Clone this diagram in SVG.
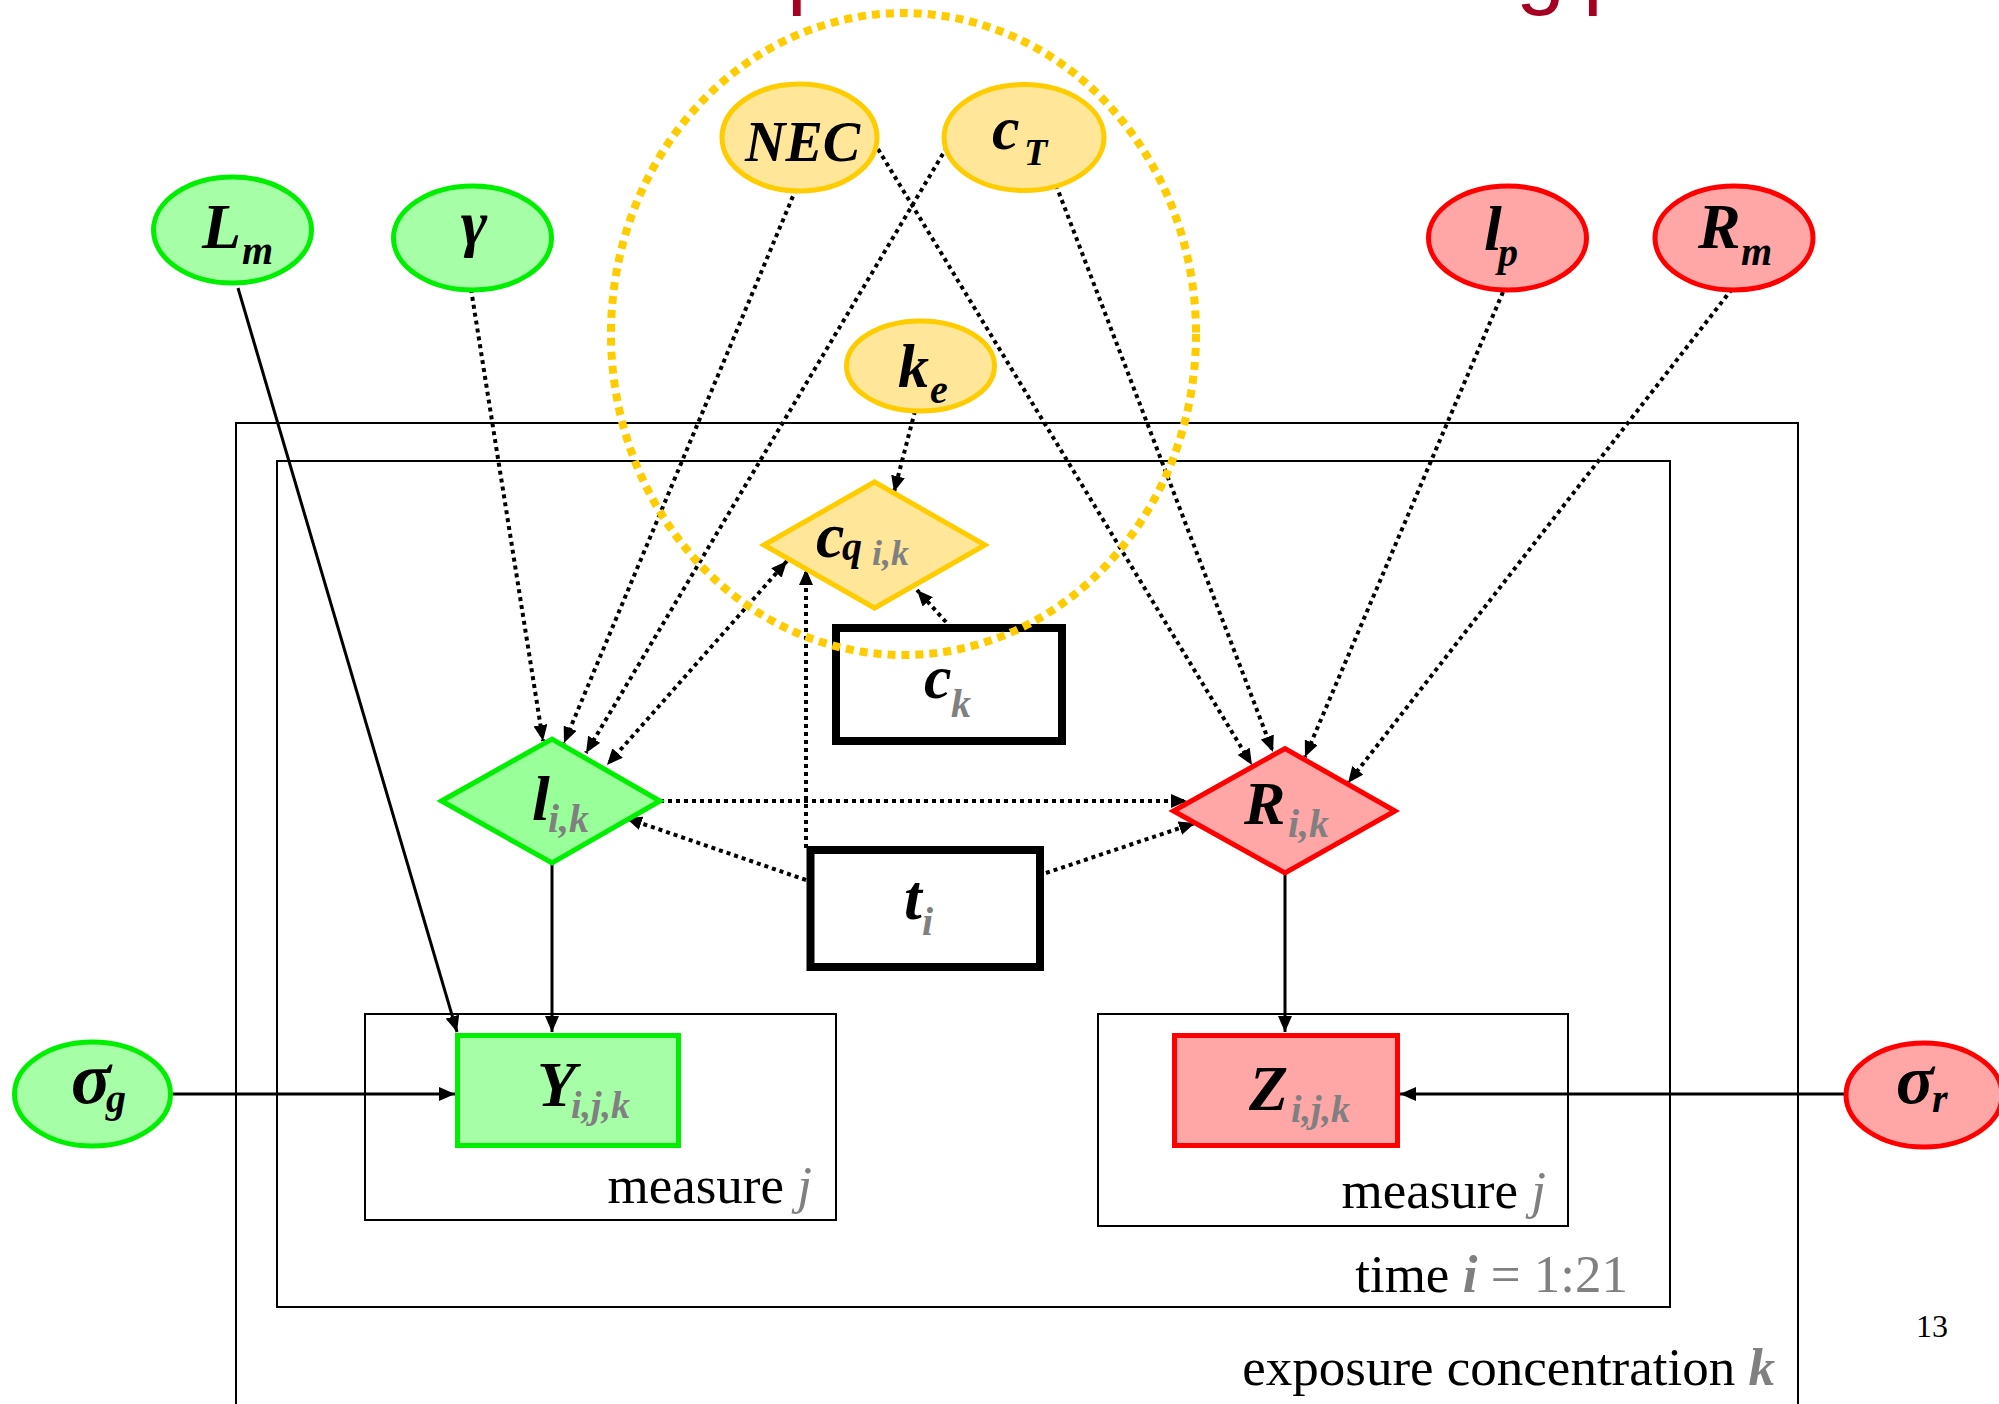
<svg xmlns="http://www.w3.org/2000/svg" width="1999" height="1404" viewBox="0 0 1999 1404">
<style>
.plate{fill:none;stroke:#000;stroke-width:2}
.lbl{font-family:"Liberation Serif","Times New Roman",serif;font-weight:bold;font-style:italic;fill:#000}
.sub{font-size:40px}
.grey{fill:#808080}
.ptxt{font-family:"Liberation Serif","Times New Roman",serif;font-size:53px;fill:#000}
.gE{fill:#A6FFA6;stroke:#00EE00;stroke-width:5}
.gD{fill:#99FF99;stroke:#00EE00;stroke-width:5}
.rE{fill:#FFA6A6;stroke:#FF0000;stroke-width:5}
.yE{fill:#FFE699;stroke:#FFCC00;stroke-width:5}
.box{fill:#fff;stroke:#000;stroke-width:8}
.solid{stroke:#000;stroke-width:3;fill:none;marker-end:url(#arr)}
.dot{stroke:#000;stroke-width:4;stroke-dasharray:4 4;fill:none;marker-end:url(#arr)}
.title{font-family:"Liberation Sans",Arial,sans-serif;font-size:88px;fill:#A50021}
</style>
<defs>
<marker id="arr" viewBox="0 0 16 14" refX="16" refY="7" markerWidth="16" markerHeight="14" markerUnits="userSpaceOnUse" orient="auto"><path d="M0,0 L16,7 L0,14 z" fill="#000"/></marker>
<marker id="arr2" viewBox="0 0 16 14" refX="16" refY="7" markerWidth="16" markerHeight="14" markerUnits="userSpaceOnUse" orient="auto-start-reverse"><path d="M0,0 L16,7 L0,14 z" fill="#000"/></marker>
</defs>
<rect width="1999" height="1404" fill="#fff"/>

<g id="title-fragments">
<text class="title" x="787" y="-2">p</text>
<text class="title" x="1516" y="-2">g</text>
<text class="title" x="1583" y="-2">p</text>
</g>

<g id="plates">
<path class="plate" d="M236,1420 V423 H1798 V1420"/>
<rect class="plate" x="277" y="461" width="1393" height="846"/>
<rect class="plate" x="365" y="1014" width="471" height="206"/>
<rect class="plate" x="1098" y="1014" width="470" height="212"/>
<text class="ptxt" x="812" y="1203" text-anchor="end">measure <tspan class="grey" font-style="italic">j</tspan></text>
<text class="ptxt" x="1546" y="1208" text-anchor="end">measure <tspan class="grey" font-style="italic">j</tspan></text>
<text class="ptxt" x="1628" y="1292" text-anchor="end">time <tspan class="grey" font-style="italic" font-weight="bold">i</tspan><tspan class="grey"> = 1:21</tspan></text>
<text class="ptxt" x="1775" y="1385" text-anchor="end" font-size="54.5">exposure concentration <tspan class="grey" font-style="italic" font-weight="bold">k</tspan></text>
<text x="1932" y="1337" text-anchor="middle" font-family="Liberation Serif, serif" font-size="32">13</text>
</g>

<g id="connectors">
<line class="solid" x1="238" y1="288" x2="457" y2="1032"/>
<line class="solid" x1="552" y1="863" x2="552" y2="1032"/>
<line class="solid" x1="171" y1="1094" x2="455" y2="1094"/>
<line class="solid" x1="1285" y1="873" x2="1285" y2="1032"/>
<line class="solid" x1="1847" y1="1094" x2="1400" y2="1094"/>
<line class="dot" x1="471" y1="289" x2="543" y2="741"/>
<line class="dot" x1="796" y1="189" x2="564" y2="743"/>
<line class="dot" x1="947" y1="147" x2="586" y2="753"/>
<line class="dot" x1="787" y1="561" x2="607" y2="765" style="marker-start:url(#arr2);marker-end:url(#arr2)"/>
<line class="dot" x1="806" y1="848" x2="806" y2="569"/>
<line class="dot" x1="946" y1="622" x2="917" y2="590"/>
<line class="dot" x1="915" y1="411" x2="894" y2="492"/>
<line class="dot" x1="660" y1="801" x2="1187" y2="801"/>
<line class="dot" x1="806" y1="880" x2="626" y2="818"/>
<line class="dot" x1="1046" y1="873" x2="1195" y2="823"/>
<line class="dot" x1="878" y1="149" x2="1252" y2="765"/>
<line class="dot" x1="1056" y1="185" x2="1273" y2="752"/>
<line class="dot" x1="1503" y1="292" x2="1305" y2="757"/>
<line class="dot" x1="1732" y1="289" x2="1348" y2="783"/>
</g>

<g id="node-Lm">
<ellipse class="gE" cx="232.5" cy="230" rx="79" ry="53"/>
<text class="lbl" x="202" y="248" font-size="64">L<tspan class="sub" x="242" y="264">m</tspan></text>
</g>
<g id="node-gamma">
<ellipse class="gE" cx="472.5" cy="238" rx="79" ry="52"/>
<text class="lbl" x="474" y="244" font-size="64" text-anchor="middle">γ</text>
</g>
<g id="node-lp">
<ellipse class="rE" cx="1507.5" cy="238" rx="79" ry="52"/>
<text class="lbl" x="1484" y="250" font-size="64">l<tspan class="sub" x="1498" y="266">p</tspan></text>
</g>
<g id="node-Rm">
<ellipse class="rE" cx="1734" cy="238" rx="79" ry="52"/>
<text class="lbl" x="1698" y="248" font-size="64">R<tspan class="sub" x="1741" y="265">m</tspan></text>
</g>
<g id="node-NEC">
<ellipse class="yE" cx="799.5" cy="137.5" rx="77.5" ry="53.5"/>
<text class="lbl" x="745" y="161" font-size="56">NEC</text>
</g>
<g id="node-cT">
<ellipse class="yE" cx="1024" cy="137.5" rx="80" ry="53"/>
<text class="lbl" x="992" y="149" font-size="62">c<tspan font-size="38" x="1024" y="165">T</tspan></text>
</g>
<g id="node-ke">
<ellipse class="yE" cx="920.5" cy="366" rx="74" ry="45"/>
<text class="lbl" x="898" y="387" font-size="62">k<tspan class="sub" x="930" y="403">e</tspan></text>
</g>
<g id="node-cq">
<path class="yE" d="M764,545 L874.5,482 L985,545 L874.5,608 Z"/>
<text class="lbl" x="816" y="557" font-size="64">c<tspan class="sub" x="842" y="560">q</tspan><tspan class="grey" font-size="36" x="872" y="565">i,k</tspan></text>
</g>
<g id="node-ck">
<rect class="box" x="836" y="628" width="226" height="113"/>
<text class="lbl" x="924" y="698" font-size="62">c<tspan class="sub grey" x="951" y="717">k</tspan></text>
</g>
<g id="node-l">
<path class="gD" d="M441.5,801 L552,739 L660,801 L552,863 Z"/>
<text class="lbl" x="532" y="820" font-size="64">l<tspan class="sub grey" x="548" y="832">i,k</tspan></text>
</g>
<g id="node-R">
<path class="rE" d="M1173.5,811 L1285,748.5 L1395,811 L1285,873 Z"/>
<text class="lbl" x="1244" y="824" font-size="62">R<tspan class="sub grey" x="1288" y="837">i,k</tspan></text>
</g>
<g id="node-t">
<rect class="box" x="810.5" y="850" width="229.5" height="117"/>
<text class="lbl" x="904" y="919" font-size="64">t<tspan class="sub grey" x="922" y="935">i</tspan></text>
</g>
<g id="node-Y">
<rect class="gE" x="457.5" y="1035.5" width="221" height="110"/>
<text class="lbl" x="537" y="1106" font-size="64">Y<tspan class="grey" font-size="38" x="571" y="1118">i,j,k</tspan></text>
</g>
<g id="node-Z">
<rect class="rE" x="1174.5" y="1035.5" width="223" height="110"/>
<text class="lbl" x="1249" y="1110" font-size="64">Z<tspan class="grey" font-size="38" x="1291" y="1122">i,j,k</tspan></text>
</g>
<g id="node-sigma-g">
<ellipse class="gE" cx="92.5" cy="1094" rx="78" ry="52"/>
<text class="lbl" x="71" y="1103" font-size="74">σ<tspan class="sub" x="106" y="1112">g</tspan></text>
</g>
<g id="node-sigma-r">
<ellipse class="rE" cx="1924" cy="1095" rx="78" ry="52"/>
<text class="lbl" x="1896" y="1103" font-size="70">σ<tspan class="sub" x="1932" y="1112">r</tspan></text>
</g>

<g id="group-highlight">
<ellipse cx="903.5" cy="334" rx="292.5" ry="321" fill="none" stroke="#FFCC00" stroke-width="8" stroke-dasharray="8 6"/>
</g>
</svg>
